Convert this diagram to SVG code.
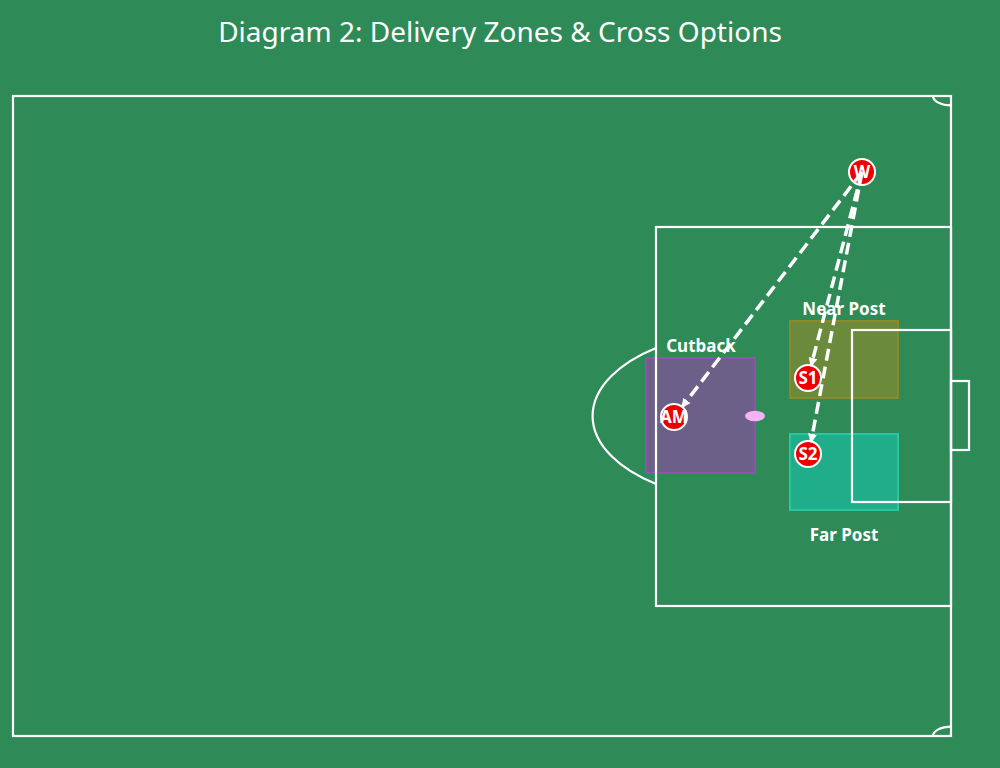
<svg xmlns="http://www.w3.org/2000/svg" width="1000" height="768" viewBox="0 0 1000 768">
<defs>
<style>
.line{fill:none;stroke:#fff;stroke-width:2.2}
.pass{fill:none;stroke:#fff;stroke-width:3.5;stroke-dasharray:12 6}
.zl{font-family:"Noto Sans","Open Sans",sans-serif;font-size:17px;font-weight:bold;fill:#fff;text-anchor:middle}
.nd{fill:#ee0000;stroke:#fff;stroke-width:2}
.nt{font-family:"Noto Sans","Open Sans",sans-serif;font-size:17px;font-weight:bold;fill:#fff;text-anchor:middle}
</style>
<marker id="ah" viewBox="0 0 10 10" refX="9" refY="5" markerWidth="2.6" markerHeight="2.6" orient="auto" markerUnits="strokeWidth">
<path d="M0,0 L10,5 L0,10 z" fill="#fff"/>
</marker>
</defs>
<rect x="0" y="0" width="1000" height="768" fill="#2e8b57"/>
<text x="500" y="42" font-family="Noto Sans, Open Sans, sans-serif" font-size="28" fill="#fff" text-anchor="middle">Diagram 2: Delivery Zones &amp; Cross Options</text>

<g id="zones">
<rect id="zone-cutback" x="646" y="358" width="109" height="115" fill="#6c6088" stroke="#9350b0" stroke-width="2"/>
<rect id="zone-near" x="790" y="321" width="108" height="77" fill="#6b8a3c" stroke="#8a8a2c" stroke-width="2"/>
<rect id="zone-far" x="790" y="434" width="108" height="76" fill="#20ae8a" stroke="#2ac8a0" stroke-width="2"/>
</g>

<g id="pitch">
<rect class="line" x="13" y="96" width="938" height="640"/>
<rect class="line" x="656" y="227" width="295" height="379"/>
<rect class="line" x="852" y="330" width="99" height="172"/>
<rect class="line" x="951" y="381" width="18" height="69"/>
<path class="line" d="M656,348 A163.5,86 0 0 0 656,484"/>
<path class="line" d="M933,96 A18,9.4 0 0 0 951,105.4"/>
<path class="line" d="M933,736 A18,9.4 0 0 1 951,726.6"/>
<ellipse cx="755" cy="416" rx="10" ry="5.2" fill="#f6b2f2"/>
</g>

<g id="labels">
<text class="zl" x="701" y="352">Cutback</text>
<text class="zl" x="844" y="315">Near Post</text>
<text class="zl" x="844" y="541">Far Post</text>
</g>

<g id="node-W"><circle class="nd" cx="862" cy="172" r="13"/><text class="nt" x="862" y="178">W</text></g>
<g id="node-AM"><circle class="nd" cx="674" cy="417" r="13"/><text class="nt" x="674" y="423">AM</text></g>
<g id="node-S1"><circle class="nd" cx="808" cy="378" r="13"/><text class="nt" x="808" y="384">S1</text></g>
<g id="node-S2"><circle class="nd" cx="808" cy="454" r="13"/><text class="nt" x="808" y="460">S2</text></g>

<g id="connectors">
<line class="pass" x1="862" y1="172" x2="682" y2="407" marker-end="url(#ah)"/>
<line class="pass" x1="862" y1="172" x2="811" y2="366" marker-end="url(#ah)"/>
<line class="pass" x1="862" y1="172" x2="811" y2="442" marker-end="url(#ah)"/>
</g>
</svg>
